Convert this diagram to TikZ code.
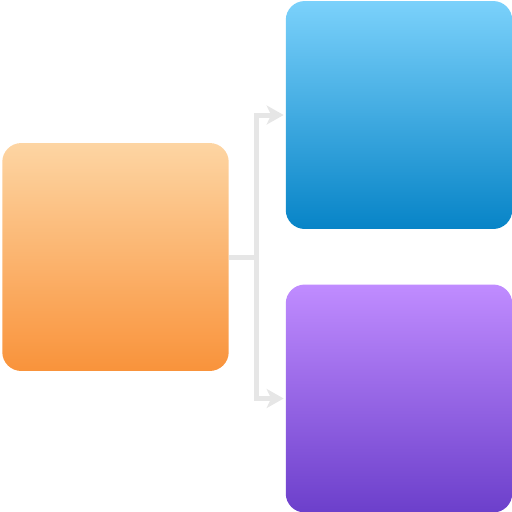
\documentclass[tikz,border=0pt]{standalone}
\usepackage{tikz}
\usetikzlibrary{arrows.meta,positioning,calc}
\definecolor{orangetop}{HTML}{FDD5A3}
\definecolor{orangebot}{HTML}{F9933B}
\definecolor{bluetop}{HTML}{7BD1FB}
\definecolor{bluebot}{HTML}{0784C7}
\definecolor{purpletop}{HTML}{C08CFF}
\definecolor{purplebot}{HTML}{6C3FCB}
\definecolor{linkgray}{HTML}{E6E6E6}
\tikzset{%
  tile/.style={%
    rectangle,
    rounded corners=0.38cm,
    inner sep=0pt,
    minimum width=4.53cm,
    minimum height=4.56cm
  }
}
\tikzset{%
  link/.style={%
    draw=linkgray,
    line width=0.1cm,
    shorten >=1pt,
    -{Stealth[length=0.34cm,width=0.38cm,inset=0.09cm]}
  }
}

\begin{document}
\begin{tikzpicture}[x=0.02cm,y=-0.02cm]
  \useasboundingbox (0,0) rectangle (512,512);
  \node[tile,top color=orangetop,bottom color=orangebot] (source) at (115.5, 257) {};
  \node[tile,top color=bluetop,bottom color=bluebot] (upper) at (399, 115) {};
  \node[tile,top color=purpletop,bottom color=purplebot] (lower) at (399, 398.5) {};
  \coordinate (split) at (257, 257);
  \draw [draw=linkgray,line width=0.1cm] (source.east) -- (split);
  \draw [link] (split) |- (upper.west);
  \draw [link] (split) |- (lower.west);
\end{tikzpicture}
\end{document}
